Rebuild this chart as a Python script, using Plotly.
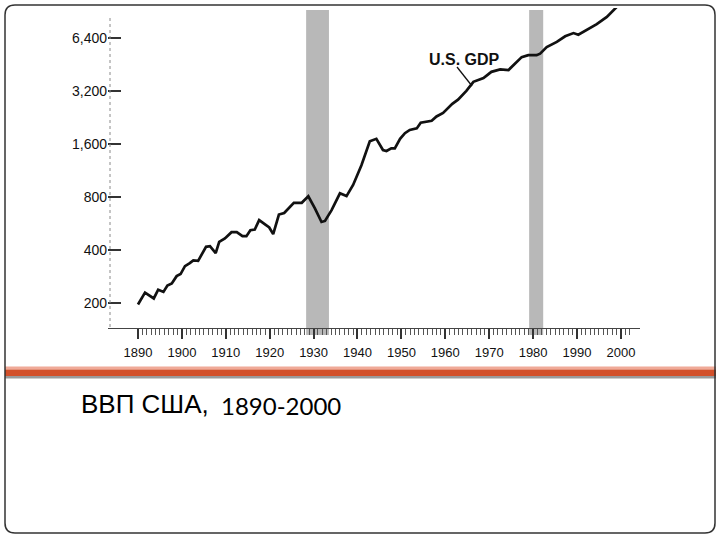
import plotly.graph_objects as go

# ---- data ----
years = [1890, 1891.6, 1893.6, 1894.6, 1895.8, 1896.7, 1897.7, 1898.8, 1899.7, 1900.7,
         1901.8, 1902.6, 1903.7, 1905.5, 1906.4, 1907.7, 1908.5, 1909.8, 1911.3, 1912.5,
         1913.8, 1914.7, 1915.6, 1916.6, 1917.6, 1919.3, 1919.9, 1920.8, 1922.1, 1923.3,
         1924.2, 1925.5, 1927.3, 1928.8, 1930.3, 1931.8, 1932.6, 1934.1, 1936.0, 1937.5,
         1939.0, 1940.9, 1942.8, 1944.3, 1945.8, 1946.6, 1947.7, 1948.5, 1949.7, 1950.8,
         1951.9, 1953.5, 1954.4, 1955.4, 1956.9, 1958.0, 1959.5, 1961.6, 1962.9, 1964.8,
         1966.4, 1968.7, 1970.5, 1972.5, 1974.4, 1977.4, 1978.9, 1980.8, 1981.6, 1983.1,
         1985.4, 1987.3, 1989.2, 1990.3, 1992.2, 1994.5, 1996.8, 1998.7, 2000.0]
gdp = [197, 230, 213, 239, 232, 252, 259, 285, 293, 325,
       338, 350, 348, 418, 421, 385, 446, 466, 506, 506,
       480, 480, 519, 523, 592, 553, 538, 493, 637, 650,
       688, 742, 742, 808, 690, 578, 586, 674, 840, 810,
       937, 1213, 1655, 1710, 1478, 1460, 1510, 1510, 1710, 1840,
       1920, 1960, 2110, 2140, 2165, 2290, 2400, 2700, 2850, 3200,
       3600, 3780, 4100, 4230, 4200, 4970, 5100, 5100, 5200, 5660,
       6060, 6520, 6800, 6650, 7110, 7640, 8400, 9290, 10100]

recession_start = [1928.3, 1979.1]
recession_end = [1933.5, 1982.3]

y_ticks = [200, 400, 800, 1600, 3200, 6400]
y_ticktext = ["200", "400", "800", "1,600", "3,200", "6,400"]
x_ticks = list(range(1890, 2001, 10))
x_minor = [y for y in range(1891, 2003) if y % 10 != 0]

series_label = "U.S. GDP"
caption_main = "ВВП США,"
caption_years = "1890-2000"

# ---- layout geometry (pixels) ----
L, T, W, H = 108, 8, 532, 320


def px(x):
    return (x - L) / W


def py(y):
    return (T + H - y) / H


fig = go.Figure()
fig.add_trace(go.Scatter(x=years, y=gdp, mode="lines",
                         line=dict(color="#111111", width=2.7),
                         showlegend=False, hoverinfo="x+y"))

shapes = []
for a, b in zip(recession_start, recession_end):
    shapes.append(dict(type="rect", xref="x", yref="paper", x0=a, x1=b,
                       y0=py(335), y1=py(10), fillcolor="#b8b8b8",
                       line=dict(width=0), layer="below"))

# dotted left axis
shapes.append(dict(type="line", xref="paper", yref="paper", x0=px(110), x1=px(110),
                   y0=py(18), y1=0, line=dict(color="#8a8a8a", width=1, dash="dot")))
# pointer for the label
shapes.append(dict(type="line", xref="paper", yref="paper", x0=px(457), y0=py(67),
                   x1=px(472), y1=py(86), line=dict(color="#111", width=1.3)))
# horizontal band
shapes.append(dict(type="rect", xref="paper", yref="paper", x0=px(5), x1=px(716),
                   y0=py(369.5), y1=py(366.5), fillcolor="#f0aa98", line=dict(width=0)))
shapes.append(dict(type="rect", xref="paper", yref="paper", x0=px(5), x1=px(716),
                   y0=py(376), y1=py(369.5), fillcolor="#d2502a", line=dict(width=0)))
shapes.append(dict(type="rect", xref="paper", yref="paper", x0=px(5), x1=px(716),
                   y0=py(378.5), y1=py(376), fillcolor="#9a9a9a", line=dict(width=0)))

# rounded slide border
x0, x1, y0, y1, r = 5, 715, 5, 533, 10
path = (f"M {px(x0 + r)},{py(y0)} L {px(x1 - r)},{py(y0)} "
        f"Q {px(x1)},{py(y0)} {px(x1)},{py(y0 + r)} "
        f"L {px(x1)},{py(y1 - r)} Q {px(x1)},{py(y1)} {px(x1 - r)},{py(y1)} "
        f"L {px(x0 + r)},{py(y1)} Q {px(x0)},{py(y1)} {px(x0)},{py(y1 - r)} "
        f"L {px(x0)},{py(y0 + r)} Q {px(x0)},{py(y0)} {px(x0 + r)},{py(y0)} Z")
shapes.append(dict(type="path", xref="paper", yref="paper", path=path,
                   line=dict(color="#333333", width=1.5)))

annotations = [
    dict(text=f"<b>{series_label}</b>", xref="paper", yref="paper",
         x=px(464), y=py(59), xanchor="center", yanchor="middle", showarrow=False,
         font=dict(family="Liberation Sans", size=16, color="#111")),
    dict(text=caption_main, xref="paper", yref="paper", x=px(79), y=py(404),
         xanchor="left", yanchor="middle", showarrow=False,
         font=dict(family="Liberation Sans", size=26, color="#000")),
    dict(text=caption_years, xref="paper", yref="paper", x=px(219), y=py(405),
         xanchor="left", yanchor="middle", showarrow=False,
         font=dict(family="Lato", size=24, color="#000")),
]

fig.update_layout(
    width=720, height=540,
    margin=dict(l=L, r=720 - L - W, t=T, b=540 - T - H),
    paper_bgcolor="white", plot_bgcolor="rgba(0,0,0,0)",
    shapes=shapes, annotations=annotations, showlegend=False,
    xaxis=dict(range=[1883.17, 2004.35], showgrid=False, zeroline=False,
               showline=True, linecolor="#444", linewidth=1,
               tickmode="array", tickvals=x_ticks, ticks="outside", ticklen=10,
               tickwidth=1.5, tickcolor="#333", ticklabelstandoff=2,
               tickfont=dict(family="Liberation Sans", size=13, color="#111"),
               minor=dict(tickmode="array", tickvals=x_minor, ticks="outside",
                          ticklen=6, tickwidth=1, tickcolor="#555")),
    yaxis=dict(type="log", range=[2.161, 3.9746], showgrid=False, zeroline=False,
               showline=False, tickmode="array", tickvals=y_ticks, ticktext=y_ticktext,
               ticks="inside", ticklen=13, tickwidth=1.5, tickcolor="#333",
               tickfont=dict(family="Liberation Sans", size=14, color="#111")),
)

fig.write_html("out.html")
